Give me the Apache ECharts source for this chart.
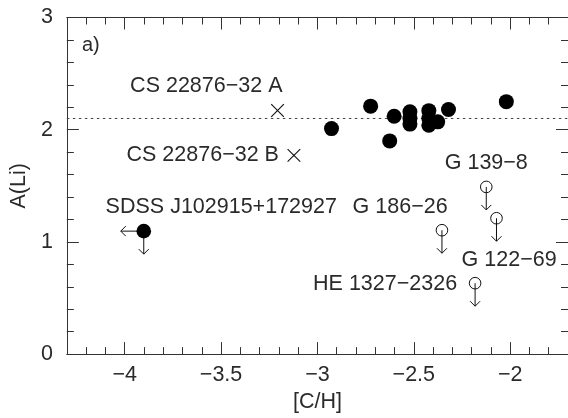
<!DOCTYPE html>
<html>
<head>
<meta charset="utf-8">
<script src="https://cdn.jsdelivr.net/npm/echarts@6/dist/echarts.min.js"></script>
<style>
html,body{margin:0;padding:0;background:#fff;}
#chart{width:568px;height:418px;}
</style>
</head>
<body>
<div id="chart"></div>
<script>
// ---- data ----
const xMajorTicks = [-4, -3.5, -3, -2.5, -2];
const xMinorTicks = [-4.3, -4.2, -4.1, -4.0, -3.9, -3.8, -3.7, -3.6, -3.5, -3.4, -3.3, -3.2, -3.1, -3.0, -2.9, -2.8, -2.7, -2.6, -2.5, -2.4, -2.3, -2.2, -2.1, -2.0, -1.9, -1.8, -1.7];
const yTicks = [0, 1, 2, 3];

const detCH  = [-2.927, -2.724, -2.602, -2.625, -2.520, -2.520, -2.520, -2.422, -2.422, -2.422, -2.376, -2.320, -2.020];
const detALi = [ 2.01,   2.21,   2.12,   1.90,   2.16,   2.10,   2.05,   2.17,   2.10,   2.04,   2.07,   2.18,   2.25];

const crossNames = ['CS 22876\u221232 A', 'CS 22876\u221232 B'];
const crossCH  = [-3.207, -3.122];
const crossALi = [ 2.171,  1.771];

const sdssName = 'SDSS J102915+172927';
const sdssCH = [-3.901];
const sdssALi = [1.096];

const limNames = ['G 139\u22128', 'G 122\u221269', 'G 186\u221226', 'HE 1327\u22122326'];
const limCH  = [-2.124, -2.071, -2.354, -2.182];
const limALi = [ 1.49,   1.211,  1.104,  0.632];

const plateau = 2.1;
const xRange = [-4.3, -1.7];

// ---- style ----
const INK = '#111';
const TXT = '#2a2a2a';
const AX = '#333';
const FONT = 'Liberation Sans';
const FS = 21.5;

// label placement (pixel offsets from the mark)
const crossLabel = [
  {dx: 5, dy: -24, align: 'right'},
  {dx: -15, dy: 0, align: 'right'}
];
const sdssLabel = {dx: 77.5, dy: -24.3, align: 'center'};
const limLabel = [
  {dx: 0, dy: -24, align: 'center'},
  {dx: 12.6, dy: 42.3, align: 'center'},
  {dx: -41.8, dy: -22.7, align: 'center'},
  {dx: -18, dy: 0.7, align: 'right'}
];

function txt(s, x, y, align) {
  return {type: 'text', style: {text: s, x: x, y: y, align: align, verticalAlign: 'middle',
    fontSize: FS, fontFamily: FONT, fill: TXT}};
}
function fmt(v) { return String(v).replace('-', '\u2212'); }

const chart = echarts.init(document.getElementById('chart'), null, {renderer: 'canvas'});

const baseX = {type: 'value', min: xRange[0], max: xRange[1], splitLine: {show: false}, scale: true};
const xAxes = [
  Object.assign({}, baseX, {position: 'bottom',
    axisLine: {show: true, onZero: false, lineStyle: {color: AX, width: 1}},
    axisTick: {show: true, inside: true, length: 12, customValues: xMajorTicks, lineStyle: {color: AX}},
    axisLabel: {show: true, customValues: xMajorTicks, margin: 10, formatter: fmt,
      fontSize: FS, fontFamily: FONT, color: TXT},
    name: '[C/H]', nameLocation: 'middle', nameGap: 36,
    nameTextStyle: {fontSize: FS, fontFamily: FONT, color: TXT}}),
  Object.assign({}, baseX, {position: 'bottom',
    axisLine: {show: false, onZero: false},
    axisTick: {show: true, inside: true, length: 7, customValues: xMinorTicks, lineStyle: {color: AX}},
    axisLabel: {show: false}}),
  Object.assign({}, baseX, {position: 'top',
    axisLine: {show: true, onZero: false, lineStyle: {color: AX, width: 1}},
    axisTick: {show: true, inside: true, length: 12, customValues: xMajorTicks, lineStyle: {color: AX}},
    axisLabel: {show: false}}),
  Object.assign({}, baseX, {position: 'top',
    axisLine: {show: false, onZero: false},
    axisTick: {show: true, inside: true, length: 7, customValues: xMinorTicks, lineStyle: {color: AX}},
    axisLabel: {show: false}})
];

const baseY = {type: 'value', min: 0, max: 3, interval: 1, splitLine: {show: false},
  minorTick: {show: true, splitNumber: 5, length: 7, lineStyle: {color: AX}},
  minorSplitLine: {show: false}};
const yAxes = [
  Object.assign({}, baseY, {position: 'left',
    axisLine: {show: true, onZero: false, lineStyle: {color: AX, width: 1}},
    axisTick: {show: true, inside: true, length: 12, lineStyle: {color: AX}},
    axisLabel: {show: true, margin: 14, fontSize: FS, fontFamily: FONT, color: TXT},
    name: 'A(Li)', nameLocation: 'middle', nameGap: 27, nameRotate: 90,
    nameTextStyle: {fontSize: FS, fontFamily: FONT, color: TXT}}),
  Object.assign({}, baseY, {position: 'right',
    axisLine: {show: true, onZero: false, lineStyle: {color: AX, width: 1}},
    axisTick: {show: true, inside: true, length: 12, lineStyle: {color: AX}},
    axisLabel: {show: false}})
];

const option = {
  animation: false,
  backgroundColor: '#fff',
  grid: {left: 63.3, top: 17.5, width: 511.4, height: 344.5, containLabel: false},
  xAxis: xAxes,
  yAxis: yAxes,
  graphic: [{type: 'text', left: 82, top: 35, style: {text: 'a)', fontSize: 20, fontFamily: FONT, fill: TXT}}],
  series: [
    {
      type: 'line', xAxisIndex: 0, yAxisIndex: 0, symbol: 'none', silent: true, z: 1,
      data: [[xRange[0], plateau], [xRange[1], plateau]],
      lineStyle: {color: '#444', width: 1, type: [2.5, 3.5]}
    },
    {
      type: 'scatter', xAxisIndex: 0, yAxisIndex: 0, symbol: 'circle', symbolSize: 15, z: 3,
      itemStyle: {color: '#000', opacity: 1},
      data: detCH.map((x, i) => [x, detALi[i]])
    },
    {
      type: 'custom', xAxisIndex: 0, yAxisIndex: 0, z: 4,
      data: crossCH.map((x, i) => [x, crossALi[i]]),
      renderItem: function (params, api) {
        const p = api.coord([api.value(0), api.value(1)]);
        const h = 6.3;
        const L = crossLabel[params.dataIndex];
        return {type: 'group', children: [
          {type: 'line', shape: {x1: p[0]-h, y1: p[1]-h, x2: p[0]+h, y2: p[1]+h}, style: {stroke: INK, lineWidth: 1.1}},
          {type: 'line', shape: {x1: p[0]-h, y1: p[1]+h, x2: p[0]+h, y2: p[1]-h}, style: {stroke: INK, lineWidth: 1.1}},
          txt(crossNames[params.dataIndex], p[0] + L.dx, p[1] + L.dy, L.align)
        ]};
      }
    },
    {
      type: 'custom', xAxisIndex: 0, yAxisIndex: 0, z: 4,
      data: sdssCH.map((x, i) => [x, sdssALi[i]]),
      renderItem: function (params, api) {
        const p = api.coord([api.value(0), api.value(1)]);
        const r = 7.3, L = 23, a = 5;
        return {type: 'group', children: [
          {type: 'line', shape: {x1: p[0], y1: p[1], x2: p[0]-L, y2: p[1]}, style: {stroke: INK, lineWidth: 1}},
          {type: 'polyline', shape: {points: [[p[0]-L+a, p[1]-a], [p[0]-L, p[1]], [p[0]-L+a, p[1]+a]]}, style: {stroke: INK, fill: 'none', lineWidth: 1}},
          {type: 'line', shape: {x1: p[0], y1: p[1], x2: p[0], y2: p[1]+L}, style: {stroke: INK, lineWidth: 1}},
          {type: 'polyline', shape: {points: [[p[0]-a, p[1]+L-a], [p[0], p[1]+L], [p[0]+a, p[1]+L-a]]}, style: {stroke: INK, fill: 'none', lineWidth: 1}},
          {type: 'circle', shape: {cx: p[0], cy: p[1], r: r}, style: {fill: '#000'}},
          txt(sdssName, p[0] + sdssLabel.dx, p[1] + sdssLabel.dy, sdssLabel.align)
        ]};
      }
    },
    {
      type: 'custom', xAxisIndex: 0, yAxisIndex: 0, z: 4,
      data: limCH.map((x, i) => [x, limALi[i]]),
      renderItem: function (params, api) {
        const p = api.coord([api.value(0), api.value(1)]);
        const r = 5.8, L = 23, a = 5;
        const lb = limLabel[params.dataIndex];
        return {type: 'group', children: [
          {type: 'circle', shape: {cx: p[0], cy: p[1], r: r}, style: {fill: 'none', stroke: INK, lineWidth: 1}},
          {type: 'line', shape: {x1: p[0], y1: p[1], x2: p[0], y2: p[1]+L}, style: {stroke: INK, lineWidth: 1}},
          {type: 'polyline', shape: {points: [[p[0]-a, p[1]+L-a], [p[0], p[1]+L], [p[0]+a, p[1]+L-a]]}, style: {stroke: INK, fill: 'none', lineWidth: 1}},
          txt(limNames[params.dataIndex], p[0] + lb.dx, p[1] + lb.dy, lb.align)
        ]};
      }
    }
  ]
};
chart.setOption(option);
</script>
</body>
</html>
